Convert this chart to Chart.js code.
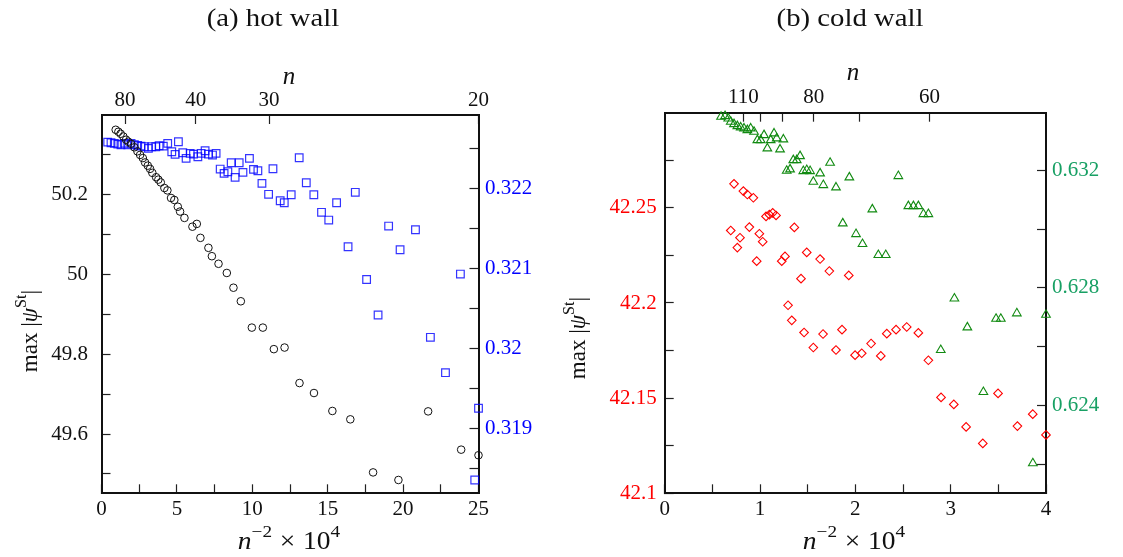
<!DOCTYPE html>
<html>
<head>
<meta charset="utf-8">
<script src="https://cdn.jsdelivr.net/npm/chart.js@4.4.1/dist/chart.umd.min.js"></script>
<style>
  html, body { margin: 0; padding: 0; background: #fff; }
  #wrap { position: relative; width: 1123px; height: 557px; }
  canvas { position: absolute; top: 0; }
  #hot { left: 0; }
  #cold { left: 560px; }
</style>
</head>
<body>
<div id="wrap">
  <canvas id="hot" width="560" height="557"></canvas>
  <canvas id="cold" width="563" height="557"></canvas>
</div>
<script>
const SERIF = "'Liberation Serif', 'DejaVu Serif', serif";

// (a) hot wall -- black circles, left axis
const hotCircX = [0.94, 1.12, 1.27, 1.45, 1.63, 1.78, 1.96, 2.18, 2.38, 2.56, 2.74, 2.89, 3.07, 3.22, 3.37,
  3.62, 3.77, 3.93, 4.17, 4.37, 4.61, 4.83, 5.06, 5.21, 5.50, 6.03, 6.32, 6.56, 7.09, 7.32,
  7.76, 8.31, 8.75, 9.24, 9.97, 10.70, 11.43, 12.14, 13.13, 14.09, 15.31, 16.50, 18.01, 19.69, 21.66,
  23.85, 25.0];
const hotCircY = [50.363, 50.358, 50.353, 50.346, 50.338, 50.333, 50.328, 50.319, 50.309, 50.300, 50.292, 50.281, 50.273, 50.265, 50.255,
  50.244, 50.238, 50.231, 50.217, 50.211, 50.192, 50.187, 50.170, 50.158, 50.142, 50.120, 50.127, 50.092, 50.067, 50.046,
  50.027, 50.004, 49.967, 49.933, 49.867, 49.867, 49.813, 49.817, 49.728, 49.703, 49.658, 49.637, 49.504, 49.485, 49.657,
  49.561, 49.547];

// (a) hot wall -- blue squares, right axis
const hotSqX = [0.41, 0.63, 0.85, 1.08, 1.29, 1.51, 1.74, 1.96, 2.18, 2.40, 2.62, 2.84, 3.11, 3.33, 3.60,
  3.82, 4.10, 4.39, 4.66, 4.88, 5.10, 5.39, 5.61, 5.88, 6.10, 6.39, 6.61, 6.87, 7.09, 7.36,
  7.60, 7.87, 8.13, 8.38, 8.60, 8.86, 9.13, 9.38, 9.81, 10.08, 10.37, 10.64, 11.08, 11.37, 11.85,
  12.12, 12.58, 13.11, 13.58, 14.08, 14.59, 15.07, 15.59, 16.35, 16.83, 17.58, 18.34, 19.04, 19.80, 20.82,
  21.81, 22.81, 23.80, 24.75, 25.0];
const hotSqY = [0.322581, 0.322573, 0.322565, 0.322556, 0.322548, 0.322565, 0.322548, 0.322565, 0.322548, 0.322540, 0.322531, 0.322523, 0.322503, 0.322523, 0.322523,
  0.322535, 0.322531, 0.322565, 0.322460, 0.322428, 0.322585, 0.322448, 0.322378, 0.322440, 0.322431, 0.322398, 0.322440, 0.322473, 0.322431, 0.322419,
  0.322440, 0.322244, 0.322190, 0.322210, 0.322323, 0.322140, 0.322323, 0.322203, 0.322378, 0.322240, 0.322223, 0.322065, 0.321928, 0.322248, 0.321848,
  0.321823, 0.321923, 0.322385, 0.322073, 0.321923, 0.321703, 0.321606, 0.321823, 0.321273, 0.321953, 0.320863, 0.320419, 0.321531, 0.321235, 0.321485,
  0.320140, 0.319698, 0.320931, 0.318356, 0.319253];

// (b) cold wall -- red diamonds, left axis
const coldDiaX = [0.693, 0.727, 0.762, 0.790, 0.825, 0.867, 0.888, 0.930, 0.965, 0.993, 1.028, 1.063, 1.098, 1.133, 1.168,
  1.228, 1.262, 1.294, 1.333, 1.360, 1.430, 1.462, 1.490, 1.559, 1.630, 1.661, 1.727, 1.797, 1.860, 1.931,
  1.997, 2.067, 2.165, 2.267, 2.330, 2.427, 2.539, 2.661, 2.766, 2.899, 3.033, 3.162, 3.337, 3.497, 3.700,
  3.861, 4.0];
const coldDiaY = [42.2381, 42.2626, 42.2291, 42.2343, 42.2588, 42.2570, 42.2399, 42.2553, 42.2220, 42.2364, 42.2322, 42.2455, 42.2464, 42.2474, 42.2460,
  42.2220, 42.2245, 42.1988, 42.1909, 42.2397, 42.2128, 42.1845, 42.2266, 42.1766, 42.2231, 42.1837, 42.2168, 42.1753, 42.1860, 42.2145,
  42.1726, 42.1736, 42.1787, 42.1722, 42.1839, 42.1860, 42.1874, 42.1843, 42.1699, 42.1504, 42.1467, 42.1349, 42.1262, 42.1525, 42.1353,
  42.1416, 42.1307];

// (b) cold wall -- green triangles, right axis
const coldTriX = [0.591, 0.633, 0.667, 0.693, 0.727, 0.762, 0.797, 0.832, 0.867, 0.902, 0.937, 0.972, 1.007, 1.042, 1.077,
  1.112, 1.147, 1.175, 1.210, 1.245, 1.280, 1.315, 1.349, 1.385, 1.420, 1.454, 1.490, 1.525, 1.559, 1.630,
  1.664, 1.735, 1.797, 1.868, 1.937, 2.007, 2.075, 2.178, 2.241, 2.319, 2.451, 2.556, 2.609, 2.661, 2.714,
  2.766, 2.896, 3.039, 3.175, 3.343, 3.476, 3.526, 3.694, 3.862, 4.0];
const coldTriY = [0.633820, 0.633844, 0.633765, 0.633650, 0.633571, 0.633503, 0.633459, 0.633425, 0.633367, 0.633425, 0.633310, 0.633027, 0.633027, 0.633197, 0.632745,
  0.633027, 0.633255, 0.633085, 0.632711, 0.633051, 0.631983, 0.632031, 0.632347, 0.632347, 0.632483, 0.631973, 0.632007, 0.631973, 0.631609, 0.631895,
  0.631497, 0.632255, 0.631418, 0.630194, 0.631759, 0.629830, 0.629490, 0.630670, 0.629116, 0.629116, 0.631803, 0.630782, 0.630782, 0.630782, 0.630510,
  0.630510, 0.625884, 0.627636, 0.626656, 0.624456, 0.626949, 0.626949, 0.627133, 0.622031, 0.627085];

// ticks and labels
const hotXTicks = [0, 2.5, 5, 7.5, 10, 12.5, 15, 17.5, 20, 22.5, 25];
const hotXLabels = [0, 5, 10, 15, 20, 25];
const hotNTicks = [80, 40, 30, 20];
const hotNLabels = [80, 40, 30, 20];
const hotLeftTicks = [49.5, 49.6, 49.7, 49.8, 49.9, 50, 50.1, 50.2, 50.3];
const hotLeftLabels = [49.6, 49.8, 50, 50.2];
const hotRightTicks = [0.3185, 0.319, 0.3195, 0.32, 0.3205, 0.321, 0.3215, 0.322, 0.3225];
const hotRightLabels = [0.319, 0.32, 0.321, 0.322];

const coldXTicks = [0, 0.5, 1, 1.5, 2, 2.5, 3, 3.5, 4];
const coldXLabels = [0, 1, 2, 3, 4];
const coldNTicks = [110, 100, 90, 80, 70, 60];
const coldNLabels = [110, 80, 60];
const coldLeftTicks = [42.1, 42.125, 42.15, 42.175, 42.2, 42.225, 42.25, 42.275];
const coldLeftLabels = [42.1, 42.15, 42.2, 42.25];
const coldRightTicks = [0.622, 0.624, 0.626, 0.628, 0.63, 0.632];
const coldRightLabels = [0.624, 0.628, 0.632];

const nToX = n => 1e4 / (n * n);
const pts = (xs, ys) => xs.map((x, i) => ({x: x, y: ys[i]}));
const has = (list, v) => list.some(l => Math.abs(l - v) < 1e-9);
const fmt = v => String(+v.toFixed(4));

function axis(o) {
  const vertical = o.pos === 'left' || o.pos === 'right';
  return {
    type: 'linear',
    position: o.pos,
    min: o.min,
    max: o.max,
    bounds: 'data',
    afterBuildTicks: s => { s.ticks = o.ticks.map(v => ({value: v})); },
    afterFit: s => { if (vertical) s.width = o.size; else s.height = o.size; },
    grid: {drawOnChartArea: false, tickLength: -9, tickWidth: 1.2, tickColor: '#222'},
    border: {color: '#111', width: 2},
    ticks: {
      autoSkip: false,
      maxRotation: 0,
      padding: o.pad,
      color: o.color || '#111',
      font: {family: SERIF, size: 21},
      callback: v => has(o.labels, v) ? (o.toLabel ? o.toLabel(v) : fmt(v)) : ''
    }
  };
}

// draws a short run of text with italics / superscripts, centred on (cx, cy)
function rich(ctx, parts, cx, cy, size, sx) {
  let total = 0;
  const items = parts.map(p => {
    const fs = p.sup ? size * 0.7 : size;
    const font = (p.it ? 'italic ' : '') + fs + 'px ' + SERIF;
    ctx.font = font;
    const w = ctx.measureText(p.t).width + (p.gap || 0) * 2;
    total += w;
    return {t: p.t, font: font, w: w, gap: p.gap || 0, dy: p.sup ? -size * 0.38 : 0};
  });
  ctx.save();
  ctx.translate(cx, cy);
  ctx.scale(sx || 1, 1);
  let x = -total / 2;
  ctx.textAlign = 'left';
  ctx.textBaseline = 'middle';
  items.forEach(it => {
    ctx.font = it.font;
    ctx.fillText(it.t, x + it.gap, it.dy);
    x += it.w;
  });
  ctx.restore();
}

function captions(c) {
  return {
    id: 'captions',
    afterDraw(chart) {
      const ctx = chart.ctx;
      ctx.save();
      ctx.fillStyle = '#111';
      rich(ctx, [{t: c.title}], c.titleX, 19, 25, 1.15);
      rich(ctx, [{t: 'n', it: true}], c.nX, c.nY, 25);
      rich(ctx, [{t: 'n', it: true}, {t: '\u22122', sup: true}, {t: '\u00d7', gap: 7}, {t: '10'}, {t: '4', sup: true}],
        c.bX, 542, 25, 1.1);
      ctx.translate(c.lX, c.lY);
      ctx.rotate(-Math.PI / 2);
      rich(ctx, [{t: 'max |'}, {t: '\u03c8', it: true}, {t: 'St', sup: true}, {t: '|'}], 0, 0, 23);
      ctx.restore();
    }
  };
}

const baseOptions = {
  responsive: false,
  animation: false,
  devicePixelRatio: 1,
  layout: {padding: 0},
  plugins: {legend: {display: false}, tooltip: {enabled: false}}
};

new Chart(document.getElementById('hot'), {
  type: 'scatter',
  data: {
    datasets: [
      {data: pts(hotCircX, hotCircY), yAxisID: 'y', pointStyle: 'circle', pointRadius: 3.8,
       borderColor: '#111', borderWidth: 1, backgroundColor: 'rgba(0,0,0,0)', clip: false},
      {data: pts(hotSqX, hotSqY), yAxisID: 'y2', pointStyle: 'rect', pointRadius: 5.4,
       borderColor: 'rgba(0,0,255,0.8)', borderWidth: 1.2, backgroundColor: 'rgba(0,0,0,0)', clip: false}
    ]
  },
  options: Object.assign({}, baseOptions, {
    scales: {
      x: axis({pos: 'bottom', min: 0, max: 25, ticks: hotXTicks, labels: hotXLabels, size: 63.7, pad: 13}),
      x2: Object.assign(axis({pos: 'top', min: 0, max: 25, ticks: hotNTicks.map(nToX), labels: hotNLabels.map(nToX),
        size: 115, pad: 11.4, toLabel: v => String(Math.round(Math.sqrt(1e4 / v)))}), {axis: 'x'}),
      y: axis({pos: 'left', min: 49.4516, max: 50.4, ticks: hotLeftTicks, labels: hotLeftLabels, size: 101.5, pad: 22.5}),
      y2: Object.assign(axis({pos: 'right', min: 0.31819, max: 0.32292, ticks: hotRightTicks, labels: hotRightLabels,
        size: 81.5, pad: 15.5, color: '#0000ff'}), {axis: 'y'})
    }
  }),
  plugins: [captions({title: '(a) hot wall', titleX: 273, nX: 289, nY: 77, bX: 289, lX: 31, lY: 331})]
});

new Chart(document.getElementById('cold'), {
  type: 'scatter',
  data: {
    datasets: [
      {data: pts(coldDiaX, coldDiaY), yAxisID: 'y', pointStyle: 'rectRot', pointRadius: 4.3,
       borderColor: '#ff0000', borderWidth: 1.1, backgroundColor: 'rgba(0,0,0,0)', clip: false},
      {data: pts(coldTriX, coldTriY), yAxisID: 'y2', pointStyle: 'triangle', pointRadius: 5,
       borderColor: '#118a11', borderWidth: 1.1, backgroundColor: 'rgba(0,0,0,0)', clip: false}
    ]
  },
  options: Object.assign({}, baseOptions, {
    scales: {
      x: axis({pos: 'bottom', min: 0, max: 4, ticks: coldXTicks, labels: coldXLabels, size: 63.7, pad: 13}),
      x2: Object.assign(axis({pos: 'top', min: 0, max: 4, ticks: coldNTicks.map(nToX), labels: coldNLabels.map(nToX),
        size: 112.7, pad: 12, toLabel: v => String(Math.round(Math.sqrt(1e4 / v)))}), {axis: 'x'}),
      y: axis({pos: 'left', min: 42.1, max: 42.3, ticks: coldLeftTicks, labels: coldLeftLabels, size: 104.7, pad: 17,
        color: '#ff0000'}),
      y2: Object.assign(axis({pos: 'right', min: 0.62101, max: 0.63396, ticks: coldRightTicks, labels: coldRightLabels,
        size: 77, pad: 15, color: '#18a064'}), {axis: 'y'})
    }
  }),
  plugins: [captions({title: '(b) cold wall', titleX: 290, nX: 293, nY: 73, bX: 294, lX: 19, lY: 338})]
});
</script>
</body>
</html>
